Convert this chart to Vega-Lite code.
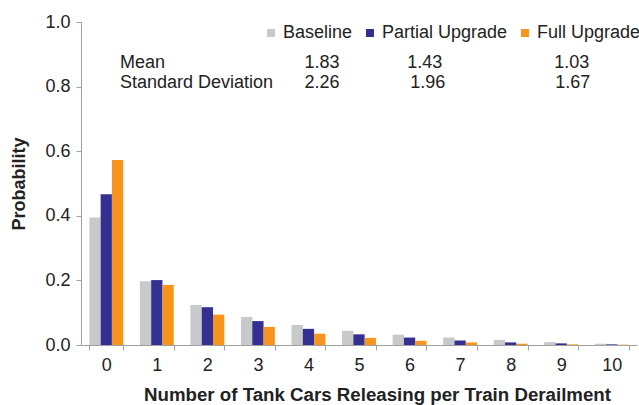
{
  "$schema": "https://vega.github.io/schema/vega-lite/v6.json",
  "width": 556,
  "height": 323,
  "autosize": {"type": "none"},
  "padding": {"left": 81, "top": 22, "right": 2, "bottom": 60},
  "config": {
    "view": {"stroke": null},
    "font": "Liberation Sans",
    "axis": {
      "domainColor": "#a0a0a0",
      "tickColor": "#a0a0a0",
      "labelColor": "#222222",
      "titleColor": "#222222",
      "labelFont": "Liberation Sans",
      "titleFont": "Liberation Sans",
      "labelFontSize": 18,
      "titleFontSize": 18,
      "titleFontWeight": "bold",
      "tickSize": 5,
      "grid": false
    }
  },
  "layer": [
    {
      "data": {
        "values": [
          {"n": 0, "scenario": "Baseline", "p": 0.395},
          {"n": 0, "scenario": "Partial Upgrade", "p": 0.467},
          {"n": 0, "scenario": "Full Upgrade", "p": 0.573},
          {"n": 1, "scenario": "Baseline", "p": 0.197},
          {"n": 1, "scenario": "Partial Upgrade", "p": 0.201},
          {"n": 1, "scenario": "Full Upgrade", "p": 0.186},
          {"n": 2, "scenario": "Baseline", "p": 0.124},
          {"n": 2, "scenario": "Partial Upgrade", "p": 0.117},
          {"n": 2, "scenario": "Full Upgrade", "p": 0.094},
          {"n": 3, "scenario": "Baseline", "p": 0.087},
          {"n": 3, "scenario": "Partial Upgrade", "p": 0.074},
          {"n": 3, "scenario": "Full Upgrade", "p": 0.056},
          {"n": 4, "scenario": "Baseline", "p": 0.062},
          {"n": 4, "scenario": "Partial Upgrade", "p": 0.050},
          {"n": 4, "scenario": "Full Upgrade", "p": 0.035},
          {"n": 5, "scenario": "Baseline", "p": 0.044},
          {"n": 5, "scenario": "Partial Upgrade", "p": 0.033},
          {"n": 5, "scenario": "Full Upgrade", "p": 0.022},
          {"n": 6, "scenario": "Baseline", "p": 0.032},
          {"n": 6, "scenario": "Partial Upgrade", "p": 0.023},
          {"n": 6, "scenario": "Full Upgrade", "p": 0.013},
          {"n": 7, "scenario": "Baseline", "p": 0.023},
          {"n": 7, "scenario": "Partial Upgrade", "p": 0.014},
          {"n": 7, "scenario": "Full Upgrade", "p": 0.008},
          {"n": 8, "scenario": "Baseline", "p": 0.016},
          {"n": 8, "scenario": "Partial Upgrade", "p": 0.008},
          {"n": 8, "scenario": "Full Upgrade", "p": 0.004},
          {"n": 9, "scenario": "Baseline", "p": 0.009},
          {"n": 9, "scenario": "Partial Upgrade", "p": 0.005},
          {"n": 9, "scenario": "Full Upgrade", "p": 0.002},
          {"n": 10, "scenario": "Baseline", "p": 0.004},
          {"n": 10, "scenario": "Partial Upgrade", "p": 0.002},
          {"n": 10, "scenario": "Full Upgrade", "p": 0.001}
        ]
      },
      "mark": {"type": "bar"},
      "encoding": {
        "x": {
          "field": "n",
          "type": "ordinal",
          "scale": {"paddingInner": 0.33, "paddingOuter": 0.165},
          "axis": {
            "title": "Number of Tank Cars Releasing per Train Derailment",
            "titleFontSize": 18.7,
            "titleX": 296,
            "labelAngle": 0,
            "tickBand": "extent",
            "labelPadding": 6,
            "titlePadding": 11
          }
        },
        "xOffset": {
          "field": "scenario",
          "type": "nominal",
          "sort": ["Baseline", "Partial Upgrade", "Full Upgrade"],
          "scale": {"paddingInner": 0, "paddingOuter": 0}
        },
        "y": {
          "field": "p",
          "type": "quantitative",
          "scale": {"domain": [0, 1]},
          "axis": {
            "title": "Probability",
            "values": [0, 0.2, 0.4, 0.6, 0.8, 1],
            "format": ".1f",
            "labelPadding": 6,
            "titlePadding": 16
          }
        },
        "color": {
          "field": "scenario",
          "type": "nominal",
          "scale": {
            "domain": ["Baseline", "Partial Upgrade", "Full Upgrade"],
            "range": ["#c8c9cb", "#333092", "#f7941d"]
          },
          "legend": {
            "orient": "none",
            "legendX": 181,
            "legendY": 2,
            "direction": "horizontal",
            "title": null,
            "symbolType": "square",
            "symbolSize": 64,
            "symbolStrokeWidth": 0,
            "labelFontSize": 18,
            "labelFont": "Liberation Sans",
            "labelColor": "#222222",
            "columnPadding": 8,
            "labelOffset": 3,
            "padding": 0
          }
        }
      }
    },
    {
      "data": {
        "values": [
          {"label": "Mean", "pos": 0.77, "p": 0.857},
          {"label": "Standard Deviation", "pos": 0.77, "p": 0.795}
        ]
      },
      "mark": {"type": "text", "align": "left", "baseline": "alphabetic", "fontSize": 18, "color": "#222222", "font": "Liberation Sans"},
      "encoding": {
        "x": {"field": "pos", "type": "quantitative", "scale": {"domain": [0, 11]}, "axis": null},
        "y": {"field": "p", "type": "quantitative"},
        "text": {"field": "label"}
      }
    },
    {
      "data": {
        "values": [
          {"value": "1.83", "pos": 4.77, "p": 0.857},
          {"value": "1.43", "pos": 6.8, "p": 0.857},
          {"value": "1.03", "pos": 9.71, "p": 0.857},
          {"value": "2.26", "pos": 4.77, "p": 0.795},
          {"value": "1.96", "pos": 6.86, "p": 0.795},
          {"value": "1.67", "pos": 9.73, "p": 0.795}
        ]
      },
      "mark": {"type": "text", "align": "center", "baseline": "alphabetic", "fontSize": 18, "color": "#222222", "font": "Liberation Sans"},
      "encoding": {
        "x": {"field": "pos", "type": "quantitative", "scale": {"domain": [0, 11]}, "axis": null},
        "y": {"field": "p", "type": "quantitative"},
        "text": {"field": "value"}
      }
    }
  ],
  "resolve": {"scale": {"x": "independent"}, "axis": {"x": "independent"}}
}
